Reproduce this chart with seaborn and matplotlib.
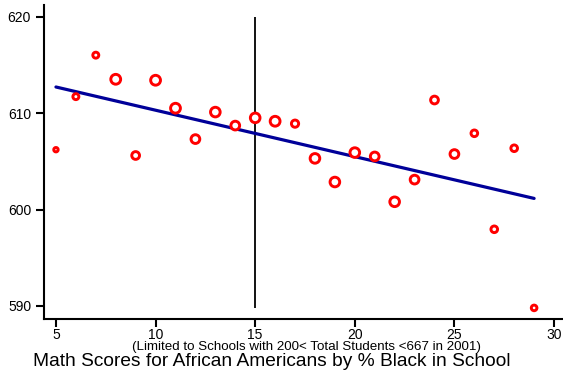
import matplotlib
matplotlib.use("Agg")
import matplotlib.pyplot as plt
import seaborn as sns
import pandas as pd

# % black in school (binned) and mean math score of African American students
pct_black = [5, 6, 7, 8, 9, 10, 11, 12, 13, 14, 15, 16, 17,
             18, 19, 20, 21, 22, 23, 24, 25, 26, 27, 28, 29]
math_score = [606.2, 611.7, 616.0, 613.5, 605.6, 613.4, 610.5, 607.3, 610.1,
              608.7, 609.5, 609.15, 608.9, 605.3, 602.85, 605.9, 605.5, 600.8,
              603.1, 611.35, 605.75, 607.9, 597.95, 606.35, 589.8]
# relative weights (marker area)
weight = [50, 70, 70, 145, 100, 145, 145, 120, 140, 120, 140, 145, 90,
          140, 140, 140, 120, 140, 120, 100, 120, 80, 80, 80, 65]

# weighted linear fit, endpoints
fit_x = [5, 29]
fit_y = [612.7, 601.15]

# reference line at 15%
vline_x = 15
vline_y = [589.8, 620]

x_ticks = [5, 10, 15, 20, 25, 30]
y_ticks = [590, 600, 610, 620]

df = pd.DataFrame({"pct": pct_black, "score": math_score, "w": weight})
fit = pd.DataFrame({"x": fit_x, "y": fit_y})

sns.set_theme(style="ticks")
plt.rcParams["font.family"] = ["Liberation Sans", "DejaVu Sans"]
plt.rcParams["text.color"] = "black"

fig = plt.figure(figsize=(5.63, 3.79), dpi=100)
ax = fig.add_axes([44 / 563, 60 / 379, 519 / 563, 314 / 379])

sns.scatterplot(data=df, x="pct", y="score", size="w", sizes=(10, 50),
                facecolor="white", edgecolor="#ff0000", linewidth=2.1,
                legend=False, ax=ax, zorder=3)
sns.lineplot(data=fit, x="x", y="y", color="#000099", linewidth=2.3,
             ax=ax, zorder=2)
ax.vlines(vline_x, vline_y[0], vline_y[1], color="black", linewidth=1.3, zorder=1)

ax.set_xlim(4.40, 30.45)
ax.set_ylim(588.65, 621.2)
ax.set_xticks(x_ticks)
ax.set_yticks(y_ticks)
ax.set_xlabel("")
ax.set_ylabel("")
sns.despine(ax=ax)
for side in ["left", "bottom"]:
    ax.spines[side].set_linewidth(1.5)
    ax.spines[side].set_color("black")
ax.tick_params(axis="both", length=5.8, width=1.5, colors="black",
               labelcolor="black", labelsize=10, direction="out")
ax.tick_params(axis="x", pad=1)
ax.tick_params(axis="y", pad=3.5)

fig.text(306 / 563, 1 - 347 / 379,
         "(Limited to Schools with 200< Total Students <667 in 2001)",
         ha="center", va="center", fontsize=9.6, color="black")
fig.text(271.5 / 563, 1 - 361.7 / 379,
         "Math Scores for African Americans by % Black in School",
         ha="center", va="center", fontsize=13.8, color="black")

fig.savefig("out.png", dpi=100)
